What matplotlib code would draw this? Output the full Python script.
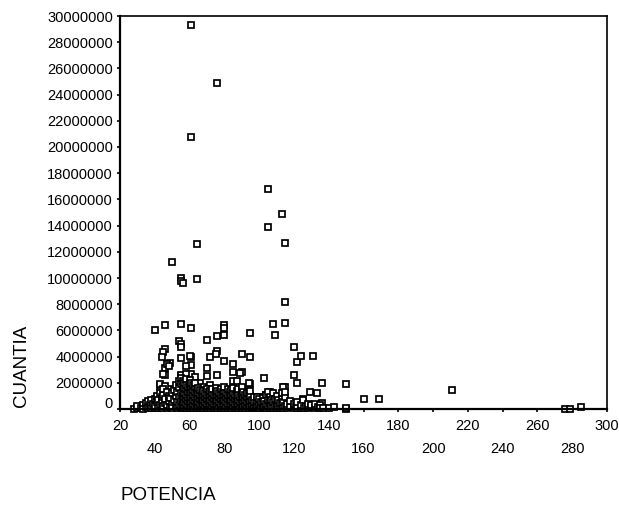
import matplotlib
matplotlib.use("Agg")
import matplotlib.pyplot as plt
from matplotlib.transforms import ScaledTranslation

plt.rcParams["font.family"] = ["Liberation Sans", "DejaVu Sans"]

# ---- scattered upper points (POTENCIA, CUANTIA) ----
pot_top = [61, 76, 61, 105, 113, 105, 115, 64, 50,
           55, 55, 56, 64, 115]
cua_top = [29.3e6, 24.9e6, 20.8e6, 16.8e6, 14.9e6, 13.9e6, 12.7e6, 12.6e6, 11.2e6,
           10.0e6, 9.8e6, 9.6e6, 9.9e6, 8.15e6]

pot_mid = [40, 46, 55, 61, 80, 80, 80, 76, 70, 95, 108, 115, 109,
           54, 55, 55, 46, 45, 44, 49, 46, 46, 55, 61, 61,
           72, 76, 80, 85, 90, 95, 70, 76, 70, 85, 90, 85, 87,
           95, 103, 120, 122, 124, 131, 120, 122, 115, 43, 48, 55, 61,
           75, 60, 47, 48, 45, 55, 58, 58, 43, 46, 63, 66, 68, 72,
           89, 94, 136, 114, 106, 104, 129, 133, 100, 125, 150, 136]
cua_mid = [6.05e6, 6.4e6, 6.5e6, 6.15e6, 6.4e6, 6.15e6, 5.65e6, 5.55e6, 5.25e6, 5.8e6, 6.5e6, 6.6e6, 5.65e6,
           5.2e6, 5.0e6, 4.7e6, 4.55e6, 4.35e6, 4.0e6, 3.5e6, 3.1e6, 2.6e6, 3.9e6, 3.95e6, 3.35e6,
           4.0e6, 4.45e6, 3.7e6, 3.45e6, 4.2e6, 4.0e6, 3.15e6, 2.6e6, 2.5e6, 2.85e6, 2.8e6, 2.15e6, 2.1e6,
           1.9e6, 2.4e6, 4.7e6, 3.6e6, 4.05e6, 4.05e6, 2.6e6, 1.95e6, 1.7e6, 1.75e6, 1.55e6, 2.5e6, 2.65e6,
           4.2e6, 4.05e6, 3.45e6, 3.25e6, 2.65e6, 2.6e6, 2.65e6, 3.25e6, 1.9e6, 1.75e6, 2.45e6, 1.95e6, 1.7e6, 1.85e6,
           2.75e6, 1.95e6, 1.95e6, 1.7e6, 1.3e6, 1.05e6, 1.3e6, 1.25e6, 0.9e6, 0.75e6, 1.9e6, 0.45e6]

# ---- dense band, 28 to 55 CV ----
pot_a = [28,
         30, 30,
         32,
         33, 33,
         35, 35,
         36, 36,
         37,
         38, 38,
         39,
         40, 40, 40,
         41, 41,
         42, 42,
         43, 43,
         44, 44, 44,
         45, 45, 45,
         46, 46,
         47, 47, 47,
         48, 48,
         49, 49,
         50, 50, 50,
         51, 51,
         52, 52, 52,
         53, 53, 53,
         54, 54, 54, 54,
         55, 55, 55, 55, 55]
cua_a = [0.02e6,
         0.05e6, 0.2e6,
         0.1e6,
         0.3e6, 0.0,
         0.15e6, 0.45e6,
         0.05e6, 0.6e6,
         0.3e6,
         0.1e6, 0.7e6,
         0.4e6,
         0.05e6, 0.25e6, 0.8e6,
         0.5e6, 1.0e6,
         0.1e6, 0.7e6,
         0.3e6, 1.2e6,
         0.05e6, 0.6e6, 0.9e6,
         0.2e6, 1.1e6, 1.5e6,
         0.45e6, 0.8e6,
         0.05e6, 0.3e6, 1.3e6,
         0.6e6, 1.0e6,
         0.15e6, 0.85e6,
         0.4e6, 1.2e6, 0.05e6,
         0.7e6, 1.45e6,
         0.2e6, 1.0e6, 1.8e6,
         0.5e6, 1.3e6, 0.05e6,
         0.3e6, 0.9e6, 1.6e6, 2.1e6,
         0.1e6, 0.6e6, 1.2e6, 1.9e6, 2.4e6]

# ---- dense band, 56 to 65 CV ----
pot_b = [56, 56, 56, 56, 56, 56, 56,
         57, 57, 57, 57, 57, 57,
         58, 58, 58, 58, 58, 58, 58,
         59, 59, 59, 59, 59,
         60, 60, 60, 60, 60, 60, 60,
         61, 61, 61, 61, 61, 61,
         62, 62, 62, 62, 62, 62,
         63, 63, 63, 63, 63, 63,
         64, 64, 64, 64, 64,
         65, 65, 65, 65, 65]
cua_b = [0.05e6, 0.35e6, 0.7e6, 1.0e6, 1.4e6, 1.75e6, 2.1e6,
         0.2e6, 0.55e6, 0.9e6, 1.25e6, 1.6e6, 2.0e6,
         0.05e6, 0.4e6, 0.75e6, 1.1e6, 1.5e6, 1.85e6, 2.3e6,
         0.25e6, 0.6e6, 0.95e6, 1.3e6, 1.7e6,
         0.05e6, 0.4e6, 0.8e6, 1.15e6, 1.55e6, 1.9e6, 2.2e6,
         0.2e6, 0.55e6, 0.9e6, 1.3e6, 1.65e6, 2.0e6,
         0.05e6, 0.35e6, 0.7e6, 1.05e6, 1.45e6, 1.8e6,
         0.2e6, 0.6e6, 0.95e6, 1.3e6, 1.7e6, 2.0e6,
         0.05e6, 0.4e6, 0.8e6, 1.15e6, 1.55e6,
         0.2e6, 0.55e6, 0.9e6, 1.25e6, 1.6e6]

# ---- dense band, 66 to 96 CV ----
pot_c = [66, 66, 66, 66, 66,
         67, 67, 67, 67,
         68, 68, 68, 68, 68,
         69, 69, 69, 69,
         70, 70, 70, 70, 70,
         71, 71, 71, 71,
         72, 72, 72, 72, 72,
         73, 73, 73, 73, 73,
         74, 74, 74, 74,
         75, 75, 75, 75, 75,
         76, 76, 76, 76, 76,
         77, 77, 77, 77,
         78, 78, 78, 78, 78,
         79, 79, 79, 79,
         80, 80, 80, 80, 80, 80,
         81, 81, 81, 81,
         82, 82, 82, 82, 82,
         83, 83, 83, 83,
         84, 84, 84, 84, 84,
         85, 85, 85, 85, 85,
         86, 86, 86, 86,
         87, 87, 87, 87,
         88, 88, 88, 88, 88,
         89, 89, 89,
         90, 90, 90, 90, 90, 90,
         91, 91, 91, 91,
         92, 92, 92, 92,
         93, 93, 93, 93,
         94, 94, 94, 94,
         95, 95, 95, 95,
         96, 96, 96]
cua_c = [0.05e6, 0.4e6, 0.75e6, 1.1e6, 1.45e6,
         0.2e6, 0.6e6, 0.95e6, 1.3e6,
         0.05e6, 0.35e6, 0.7e6, 1.05e6, 1.4e6,
         0.2e6, 0.55e6, 0.9e6, 1.25e6,
         0.05e6, 0.4e6, 0.75e6, 1.1e6, 1.5e6,
         0.2e6, 0.6e6, 0.95e6, 1.3e6,
         0.05e6, 0.35e6, 0.7e6, 1.05e6, 1.4e6,
         0.2e6, 0.55e6, 0.9e6, 1.25e6, 1.55e6,
         0.05e6, 0.4e6, 0.75e6, 1.1e6,
         0.2e6, 0.6e6, 0.95e6, 1.3e6, 1.6e6,
         0.05e6, 0.35e6, 0.7e6, 1.05e6, 1.4e6,
         0.2e6, 0.55e6, 0.9e6, 1.25e6,
         0.05e6, 0.4e6, 0.75e6, 1.1e6, 1.5e6,
         0.2e6, 0.6e6, 0.95e6, 1.3e6,
         0.05e6, 0.35e6, 0.7e6, 1.05e6, 1.4e6, 1.65e6,
         0.2e6, 0.55e6, 0.9e6, 1.25e6,
         0.05e6, 0.4e6, 0.75e6, 1.1e6, 1.5e6,
         0.2e6, 0.6e6, 0.95e6, 1.3e6,
         0.05e6, 0.35e6, 0.7e6, 1.05e6, 1.45e6,
         0.2e6, 0.55e6, 0.9e6, 1.25e6, 1.6e6,
         0.05e6, 0.4e6, 0.75e6, 1.1e6,
         0.2e6, 0.6e6, 0.95e6, 1.35e6,
         0.05e6, 0.35e6, 0.7e6, 1.05e6, 1.5e6,
         0.2e6, 0.55e6, 0.9e6,
         0.05e6, 0.4e6, 0.75e6, 1.1e6, 1.45e6, 1.7e6,
         0.2e6, 0.6e6, 0.95e6, 1.3e6,
         0.05e6, 0.35e6, 0.7e6, 1.05e6,
         0.2e6, 0.55e6, 0.9e6, 1.25e6,
         0.05e6, 0.4e6, 0.75e6, 1.15e6,
         0.2e6, 0.6e6, 1.0e6, 1.4e6,
         0.05e6, 0.35e6, 0.7e6]

# ---- dense band, 97 to 150 CV ----
pot_d = [97, 97, 97,
         98, 98,
         99, 99, 99,
         100, 100, 100,
         101, 101,
         102, 102, 102,
         103, 103,
         104, 104, 104,
         105, 105, 105,
         106, 106, 106,
         107, 107,
         108, 108, 108,
         109, 109,
         110, 110, 110,
         111, 111,
         112, 112,
         113, 113, 113,
         114, 114,
         115, 115, 115,
         116, 116,
         118, 118,
         120, 120,
         121,
         122, 122,
         124, 124,
         125,
         126,
         127,
         128, 128,
         130, 130,
         132, 132,
         134,
         135, 135,
         137,
         140,
         143,
         150, 150]
cua_d = [0.15e6, 0.5e6, 0.9e6,
         0.05e6, 0.3e6,
         0.6e6, 0.9e6, 0.15e6,
         0.05e6, 0.4e6, 0.75e6,
         0.2e6, 0.55e6,
         0.05e6, 0.35e6, 0.85e6,
         0.15e6, 0.6e6,
         0.05e6, 0.4e6, 1.05e6,
         0.2e6, 0.7e6, 1.3e6,
         0.05e6, 0.45e6, 0.95e6,
         0.25e6, 0.7e6,
         0.05e6, 0.5e6, 1.2e6,
         0.2e6, 0.8e6,
         0.05e6, 0.4e6, 1.0e6,
         0.2e6, 0.65e6,
         0.05e6, 0.45e6,
         0.2e6, 0.8e6, 1.2e6,
         0.05e6, 0.5e6,
         0.25e6, 0.9e6, 1.3e6,
         0.05e6, 0.4e6,
         0.15e6, 0.6e6,
         0.05e6, 0.35e6,
         0.2e6,
         0.05e6, 0.5e6,
         0.1e6, 0.3e6,
         0.7e6,
         0.05e6,
         0.25e6,
         0.05e6, 0.4e6,
         0.15e6, 0.3e6,
         0.05e6, 0.35e6,
         0.15e6,
         0.3e6, 0.05e6,
         0.1e6,
         0.05e6,
         0.12e6,
         0.02e6, 0.1e6]

# ---- high-power tail ----
pot_tail = [160, 169, 211, 276, 279, 285]
cua_tail = [0.74e6, 0.74e6, 1.44e6, 0.02e6, 0.03e6, 0.13e6]

x_ticks = list(range(20, 301, 20))
y_ticks = list(range(0, 30000001, 2000000))

potencia = pot_top + pot_mid + pot_a + pot_b + pot_c + pot_d + pot_tail
cuantia = cua_top + cua_mid + cua_a + cua_b + cua_c + cua_d + cua_tail

fig = plt.figure(figsize=(6.19, 5.09), dpi=100)
ax = fig.add_axes([120 / 619, 1 - 409 / 509, 487 / 619, 393 / 509])

ax.plot(potencia, cuantia, linestyle="none", marker="s", markersize=4.6,
        markerfacecolor="white", markeredgecolor="black", markeredgewidth=1.25,
        clip_on=False)

ax.set_xlim(20, 300)
ax.set_ylim(0, 30000000)

for side in ("left", "bottom"):
    ax.spines[side].set_linewidth(1.6)
for side in ("top", "right"):
    ax.spines[side].set_linewidth(1.2)

ax.set_yticks(y_ticks)
ax.set_yticklabels([str(v) for v in y_ticks])
ax.set_xticks(x_ticks)
ax.set_xticklabels([str(v) for v in x_ticks])
ax.tick_params(axis="both", direction="out", length=2.5, width=1.2,
               labelsize=10.5, colors="black")
ax.tick_params(axis="y", pad=2.5)

# staggered x tick labels: every other label drops to a second row
for i, tick in enumerate(ax.xaxis.get_major_ticks()):
    tick.set_pad(5.0 if i % 2 == 0 else 21.5)

# the zero label sits a little above its tick
zero_lbl = ax.yaxis.get_major_ticks()[0].label1
zero_lbl.set_transform(zero_lbl.get_transform() +
                       ScaledTranslation(0, 0.06, fig.dpi_scale_trans))

fig.text(21.5 / 619, 1 - 366 / 509, "CUANTIA", rotation=90,
         ha="center", va="center", fontsize=13.5)
fig.text(120 / 619, 1 - 496 / 509, "POTENCIA",
         ha="left", va="center", fontsize=13.5)

fig.savefig("out.png", dpi=100)
